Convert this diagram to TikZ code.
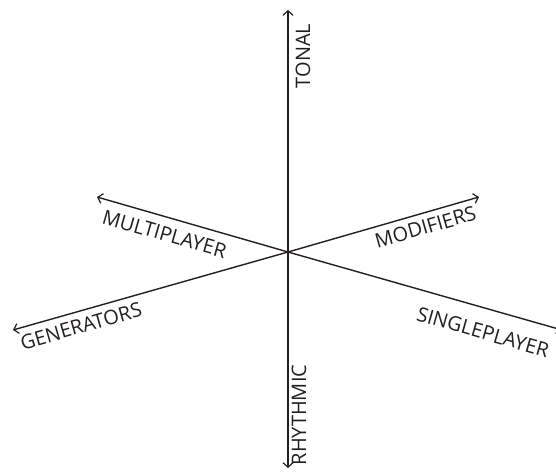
\documentclass[tikz,border=0pt]{standalone}
\usepackage{fontspec}
\setmainfont{Open Sans}
\usetikzlibrary{arrows.meta}
\definecolor{axisink}{HTML}{231F20}
\tikzset{
  % the six directions
  axis line/.style={
    draw=axisink, line width=1.4pt,
    -{Straight Barb[length=4.5pt,width=10pt,line width=1.2pt]},
  },
  % captions on the axes
  axis label/.style={
    text=axisink, font=\fontsize{20}{20}\selectfont, inner sep=0pt,
  },
}
\begin{document}
\begin{tikzpicture}[x=1pt,y=1pt]
  \useasboundingbox (0,0) rectangle (556,472);

  % ---- origin and the six ends ---------------------------------------------
  \coordinate (o)     at (288,220);
  \coordinate (tonal) at (288,462);
  \coordinate (rhyth) at (288,4);
  \coordinate (multi) at (97,275);
  \coordinate (modif) at (479,275);
  \coordinate (gener) at (13,142);
  \coordinate (singl) at (562,142);

  \draw[axis line] (o) -- (tonal);
  \draw[axis line] (o) -- (rhyth);
  \draw[axis line] (o) -- (multi);
  \draw[axis line] (o) -- (modif);
  \draw[axis line] (o) -- (gener);
  \draw[axis line] (o) -- (singl);

  % ---- captions ------------------------------------------------------------
  \node[axis label,rotate=90]  (ltonal) at (303,416) {TONAL};
  \node[axis label,rotate=90]  (lrhyth) at (299,57)  {RHYTHMIC};
  \node[axis label,rotate=-16] (lmulti) at (164.5,238) {MULTIPLAYER};
  \node[axis label,rotate=16]  (lmodif) at (425.5,245) {MODIFIERS};
  \node[axis label,rotate=16]  (lgener) at (81,146)  {GENERATORS};
  \node[axis label,rotate=-16] (lsingl) at (483,140) {SINGLEPLAYER};

\end{tikzpicture}
\end{document}
